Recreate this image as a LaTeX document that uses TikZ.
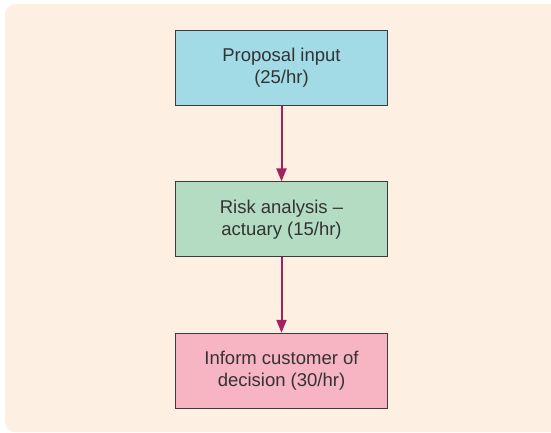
\documentclass[tikz,border=0pt]{standalone}
\usepackage{fontspec}
\setmainfont{Liberation Sans}
\usetikzlibrary{arrows.meta,positioning}
\definecolor{bgcream}{HTML}{FDF0E2}
\definecolor{inputblue}{HTML}{A2DAE5}
\definecolor{riskgreen}{HTML}{B4DCC2}
\definecolor{informpink}{HTML}{F7B4C2}
\definecolor{flowred}{HTML}{A3215E}
\definecolor{edgegrey}{HTML}{3C3C3C}

\begin{document}
\begin{tikzpicture}[x=1pt, y=-1pt, node distance=75.5pt, every node/.style={font=\fontsize{18.5}{21.7}\selectfont, text=black!80}, box/.style={draw=edgegrey, line width=0.9pt, align=center, minimum width=212pt, minimum height=75pt, inner sep=0pt}, arr/.style={-{Triangle[width=10pt,length=13pt]}, draw=flowred, line width=2pt}]
\useasboundingbox (0,0) rectangle (551,433);
\fill[bgcream, rounded corners=10pt] (5,4) rectangle (575,432);
\node[box, fill=inputblue] (input) at (281.5,68) {Proposal input\\(25/hr)};
\node[box, fill=riskgreen, below=of input] (risk) {Risk analysis --\\actuary (15/hr)};
\node[box, fill=informpink, below=of risk] (inform) {Inform customer of\\decision (30/hr)};
\draw[arr] (input) -- (risk);
\draw[arr] (risk) -- (inform);
\end{tikzpicture}
\end{document}
